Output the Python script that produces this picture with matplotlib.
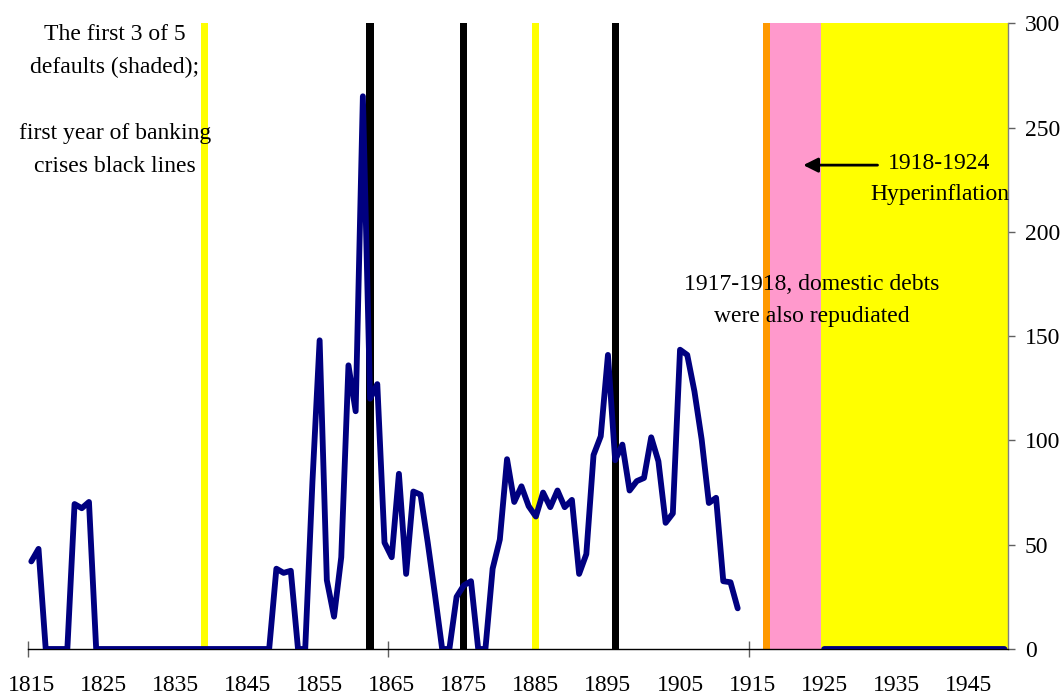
import matplotlib
matplotlib.use('Agg')
import matplotlib.pyplot as plt
import numpy as np

plt.rcParams['font.family'] = ['Liberation Serif', 'DejaVu Serif']

# series 1815-1913, then a gap (1914-1924), then 1925-1950
years_early = list(range(1815, 1914))
values_early = [
    42, 48, 0, 0, 0, 0, 69.5, 67.5, 70.5,                      # 1815-1823
    0, 0, 0, 0, 0, 0, 0, 0, 0, 0, 0, 0, 0,                     # 1824-1836
    0, 0, 0, 0, 0, 0, 0, 0, 0, 0, 0, 0,                        # 1837-1848
    38.5, 36.5, 37.5, 0, 0, 80, 148, 33, 15.5, 44,             # 1849-1858
    136, 114, 265, 120, 127, 51, 44, 84, 36, 75.5,             # 1859-1868
    74, 51, 26, 0, 0, 25, 30.5, 32.5, 0, 0,                    # 1869-1878
    38.5, 52.5, 91, 70.5, 78, 68.5, 63.5, 75, 68, 76,          # 1879-1888
    68, 71.5, 36, 45.5, 93, 102, 141, 90.5, 98, 76,            # 1889-1898
    80.5, 82, 101.5, 90, 60.5, 65, 143.5, 141, 123.5, 100.5,   # 1899-1908
    70, 72.5, 32.5, 32, 19.5,                                  # 1909-1913
]
years_late = list(range(1925, 1951))
values_late = [0, 0, 0, 0, 0, 0, 0, 0, 0, 0, 0, 0, 0,
               0, 0, 0, 0, 0, 0, 0, 0, 0, 0, 0, 0, 0]

# shaded episodes (first, last year)
default_spans = [(1839, 1839), (1885, 1885), (1925, 1950)]
repudiation_spans = [(1917, 1917)]
hyperinflation_spans = [(1918, 1924)]
banking_crisis_years = [1862, 1875, 1896]

x_labels = list(range(1815, 1950, 10))
y_ticks = [0, 50, 100, 150, 200, 250, 300]

FS = 17

fig = plt.figure(figsize=(10.63, 6.98), dpi=100)
ax = fig.add_axes([27.7 / 1063, 1 - 649 / 698, (1008 - 27.7) / 1063, (649 - 23.3) / 698])

def shade(spans, color):
    for start, end in spans:
        ax.bar(start - 0.5, 300, width=end - start + 1, align='edge',
               color=color, linewidth=0, zorder=1)

shade(default_spans, '#FFFF00')
shade(repudiation_spans, '#FF9900')
shade(hyperinflation_spans, '#FF99CC')
ax.bar(banking_crisis_years, 300, width=1.0, color='black', linewidth=0, zorder=2)

years = years_early + [np.nan] + years_late
values = values_early + [np.nan] + values_late
ax.plot(years, values, color='#000080', linewidth=4.2,
        solid_capstyle='round', solid_joinstyle='round', zorder=3)

ax.set_xlim(1814.5, 1950.5)
ax.set_ylim(0, 300)

# axes: bottom line black, value axis on the right
for side in ['top', 'left']:
    ax.spines[side].set_visible(False)
ax.spines['bottom'].set_color('black')
ax.spines['bottom'].set_linewidth(1.0)
ax.spines['right'].set_color('#808080')
ax.spines['right'].set_linewidth(1.0)

ax.set_xticks(x_labels)
ax.set_xticklabels([str(y) for y in x_labels])
ax.set_xticks([1814.5, 1864.5, 1914.5], minor=True)
ax.tick_params(axis='x', which='major', length=0, pad=19, labelsize=FS)
ax.tick_params(axis='x', which='minor', direction='inout', length=11,
               width=1, color='#606060')

ax.yaxis.tick_right()
ax.set_yticks(y_ticks)
ax.tick_params(axis='y', which='major', direction='out', length=5, width=1,
               color='#606060', pad=7, labelsize=FS)

ax.text(1826.6, 263,
        "The first 3 of 5\ndefaults (shaded);\n\nfirst year of banking\ncrises black lines",
        ha='center', va='center', multialignment='center', linespacing=1.75,
        fontsize=FS, zorder=4)

ax.text(1941.0, 225.5, "1918-1924\nHyperinflation", ha='center', va='center',
        multialignment='center', linespacing=1.64, fontsize=FS, zorder=4)
ax.annotate("", xy=(1922.1, 232), xytext=(1932.4, 232),
            arrowprops=dict(arrowstyle='-|>', color='black', lw=2,
                            mutation_scale=22, shrinkA=0, shrinkB=0),
            zorder=4)

ax.text(1923.3, 167, "1917-1918, domestic debts\nwere also repudiated",
        ha='center', va='center', multialignment='center', linespacing=1.7,
        fontsize=FS, zorder=4)

plt.savefig('out.png', dpi=100)
plt.close()
